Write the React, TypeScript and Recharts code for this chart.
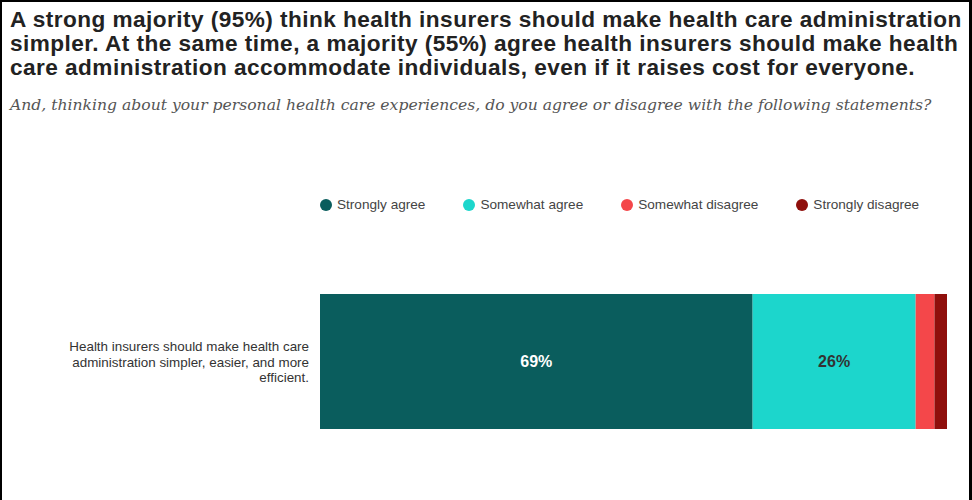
import { BarChart, Bar, XAxis, YAxis, LabelList } from "recharts";

const categories = [
  "Health insurers should make health care administration simpler, easier, and more efficient.",
];
const stronglyAgree = [69];
const somewhatAgree = [26];
const somewhatDisagree = [3];
const stronglyDisagree = [2];

const seriesNames = ["Strongly agree", "Somewhat agree", "Somewhat disagree", "Strongly disagree"];
const seriesKeys = ["sa", "wa", "wd", "sd"];
const seriesColors = ["#0a5d5d", "#1cd6cc", "#f4474a", "#8f0f0c"];

const data = categories.map((name, i) => ({
  name,
  sa: stronglyAgree[i],
  wa: somewhatAgree[i],
  wd: somewhatDisagree[i],
  sd: stronglyDisagree[i],
}));

const labelLines = [
  "Health insurers should make health care",
  "administration simpler, easier, and more",
  "efficient.",
];

const titleLines = [
  "A strong majority (95%) think health insurers should make health care administration",
  "simpler. At the same time, a majority (55%) agree health insurers should make health",
  "care administration accommodate individuals, even if it raises cost for everyone.",
];

function CategoryTick(props: any) {
  const { x, y } = props;
  return (
    <text x={x - 3} y={y} textAnchor="end" fontSize={13.4} fill="#333" fontFamily="Liberation Sans, Arial, sans-serif">
      {labelLines.map((l, i) => (
        <tspan key={i} x={x - 3} dy={i === 0 ? -14 : 15.5} dominantBaseline="middle">
          {l}
        </tspan>
      ))}
    </text>
  );
}

function LegendRow() {
  return (
    <div style={{ display: "flex", fontFamily: "Liberation Sans, Arial, sans-serif", fontSize: 13.6, color: "#444" }}>
      {seriesNames.map((n, i) => (
        <div key={n} style={{ display: "flex", alignItems: "center", marginRight: 38 }}>
          <span
            style={{
              width: 12,
              height: 12,
              borderRadius: 6,
              background: seriesColors[i],
              display: "inline-block",
              marginRight: 5,
            }}
          />
          {n}
        </div>
      ))}
    </div>
  );
}

export default function App() {
  return (
    <div
      style={{
        position: "fixed",
        left: 0,
        top: 0,
        width: 972,
        height: 500,
        boxSizing: "border-box",
        borderTop: "2px solid #000",
        borderLeft: "2px solid #000",
        borderRight: "3px solid #000",
        background: "#fff",
        overflow: "hidden",
      }}
    >
      <div
        style={{
          position: "absolute",
          left: 8,
          top: 6,
          whiteSpace: "nowrap",
          fontFamily: "Liberation Sans, Arial, sans-serif",
          fontWeight: "bold",
          fontSize: 22.6,
          letterSpacing: 0.46,
          lineHeight: "24px",
          color: "#222",
        }}
      >
        {titleLines.map((t) => (
          <div key={t}>{t}</div>
        ))}
      </div>
      <div
        style={{
          position: "absolute",
          left: 8,
          top: 94,
          whiteSpace: "nowrap",
          fontFamily: "DejaVu Serif, Georgia, serif",
          fontStyle: "italic",
          fontSize: 15.6,
          color: "#555",
        }}
      >
        And, thinking about your personal health care experiences, do you agree or disagree with the following
        statements?
      </div>
      <div style={{ position: "absolute", left: 318, top: 195 }}>
        <LegendRow />
      </div>
      <div style={{ position: "absolute", left: -2, top: -2 }}>
        <BarChart
          width={972}
          height={500}
          data={data}
          layout="vertical"
          margin={{ top: 294, right: 25, bottom: 71, left: 0 }}
          barCategoryGap={0}
        >
          <XAxis type="number" domain={[0, 100]} hide />
          <YAxis type="category" dataKey="name" width={320} axisLine={false} tickLine={false} tick={CategoryTick} />
          {seriesKeys.map((k, i) => (
            <Bar key={k} dataKey={k} stackId="a" fill={seriesColors[i]} isAnimationActive={false}>
              {i < 2 && (
                <LabelList
                  dataKey={k}
                  position="center"
                  formatter={(v: any) => `${v}%`}
                  fill={i === 0 ? "#fff" : "#333"}
                  fontSize={16}
                  fontWeight="bold"
                  fontFamily="Liberation Sans, Arial, sans-serif"
                />
              )}
            </Bar>
          ))}
        </BarChart>
      </div>
    </div>
  );
}
